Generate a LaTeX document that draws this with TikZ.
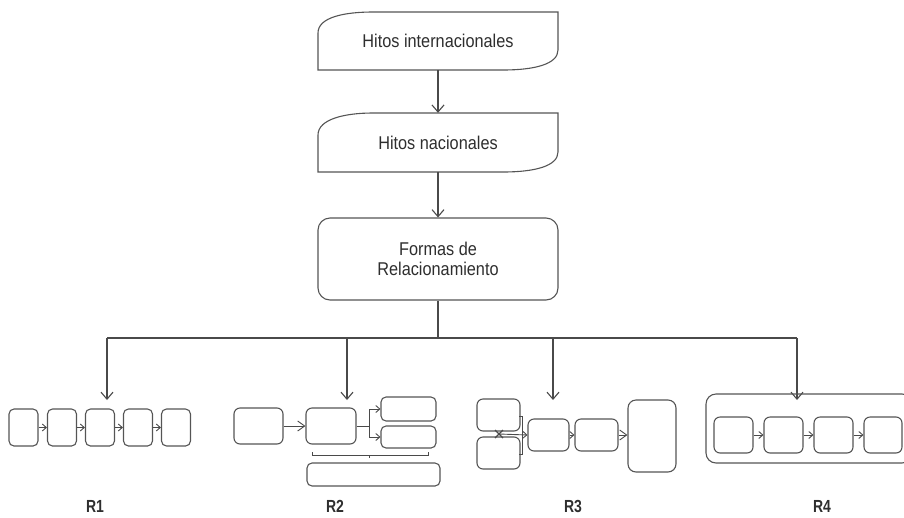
\documentclass[tikz,border=0pt]{standalone}
\usepackage{fontspec}
\setmainfont{Liberation Sans}[FakeStretch=0.88]
\newfontfamily\rfont{Liberation Sans}[FakeStretch=0.8]
\usetikzlibrary{arrows.meta,calc}
\definecolor{linegray}{HTML}{4A4A4A}
\definecolor{boxgray}{HTML}{555555}
\definecolor{txtgray}{HTML}{2E2E2E}
\tikzset{
  ln/.style={draw=linegray, line width=1.1pt},
  arr/.style={ln, -{Straight Barb[length=7pt,width=12pt,line width=1.1pt]}},
  sarr/.style={draw=linegray, line width=0.9pt, -{Straight Barb[length=4pt,width=7pt,line width=0.9pt]}},
  marr/.style={draw=linegray, line width=0.9pt, -{Straight Barb[length=7pt,width=10pt,line width=0.9pt]}},
  sbox/.style={draw=boxgray, line width=1.1pt, rounded corners=5pt, inner sep=0pt},
  bigtext/.style={text=txtgray, font=\fontsize{18.5}{20}\selectfont, align=center},
  rlabel/.style={text=txtgray, inner sep=0pt, anchor=base, font=\rfont\bfseries\fontsize{17.5}{19}\selectfont}
}
\begin{document}
\begin{tikzpicture}[x=1pt,y=-1pt]
\useasboundingbox (0,0) rectangle (904,517);

% top shapes
\draw[ln, draw=boxgray] (318,70) -- (318,33) .. controls (318,17) and (345,12) .. (373,12) -- (558,12) -- (558,50) .. controls (558,64) and (535,70) .. (503,70) -- cycle;
\node[bigtext, minimum width=240pt, minimum height=58pt] (h1) at (438,41) {Hitos internacionales};
\draw[ln, draw=boxgray] (318,172) -- (318,135) .. controls (318,119) and (345,113) .. (373,113) -- (558,113) -- (558,152) .. controls (558,166) and (535,172) .. (503,172) -- cycle;
\node[bigtext, minimum width=240pt, minimum height=59pt] (h2) at (438,142.5) {Hitos nacionales};
\node[bigtext, draw=boxgray, line width=1.1pt, rounded corners=12pt, minimum width=240pt, minimum height=82pt] (f) at (438,259) {Formas de\\Relacionamiento};

\draw[arr] (h1.south) -- (h2.north);
\draw[arr] (h2.south) -- (f.north);

\coordinate (j) at (438,338);
\coordinate (b1) at (107,338);
\coordinate (b2) at (347,338);
\coordinate (b3) at (553,338);
\coordinate (b4) at (797,338);
\coordinate (t1) at (107,400);
\coordinate (t2) at (347,400);
\coordinate (t3) at (553,400);
\coordinate (t4) at (797,400);
\draw[ln] (f.south) -- (j);
\draw[ln] (b1) -- (b4);
\draw[arr] (b1) -- (t1);
\draw[arr] (b2) -- (t2);
\draw[arr] (b3) -- (t3);
\draw[arr] (b4) -- (t4);

% R1
\foreach \i/\x in {a/23.5,b/62,c/100,d/138,e/176}
  \node[sbox, minimum width=29pt, minimum height=37pt] (r1\i) at (\x,427.5) {};
\draw[sarr] (r1a.east) -- (r1b.west);
\draw[sarr] (r1b.east) -- (r1c.west);
\draw[sarr] (r1c.east) -- (r1d.west);
\draw[sarr] (r1d.east) -- (r1e.west);
\node[rlabel] (l1) at (95,512) {R1};

% R2
\node[sbox, rounded corners=6pt, minimum width=49pt, minimum height=36pt] (r2a) at (258.5,426) {};
\node[sbox, rounded corners=6pt, minimum width=50pt, minimum height=36pt] (r2b) at (331,426) {};
\node[sbox, minimum width=55pt, minimum height=24pt] (r2c) at (408.5,409) {};
\node[sbox, minimum width=55pt, minimum height=22pt] (r2d) at (408.5,437) {};
\node[sbox, minimum width=133pt, minimum height=23pt] (r2e) at (373.5,474.5) {};
\coordinate (r2j) at (369,426);
\draw[marr] (r2a.east) -- (r2b.west);
\draw[ln, line width=0.9pt] (r2b.east) -- (r2j);
\draw[sarr] (r2j) |- (r2c.west);
\draw[sarr] (r2j) |- (r2d.west);
\draw[draw=linegray, line width=0.9pt] (312,452) -- (312,455) -- (428,455) -- (428,452);
\draw[draw=linegray, line width=0.9pt] (369,455) -- (369,458);
\node[rlabel] (l2) at (335,512) {R2};

% R3
\node[sbox, rounded corners=6pt, minimum width=43pt, minimum height=32pt] (r3a) at (498.5,415) {};
\node[sbox, rounded corners=6pt, minimum width=43pt, minimum height=32pt] (r3b) at (498.5,453) {};
\node[sbox, rounded corners=6pt, minimum width=41pt, minimum height=32pt] (r3c) at (548.5,435) {};
\node[sbox, rounded corners=6pt, minimum width=43pt, minimum height=32pt] (r3d) at (596.5,435) {};
\node[sbox, rounded corners=8pt, minimum width=48pt, minimum height=72pt] (r3e) at (652,436) {};
\coordinate (r3x) at (499,434);
\draw[draw=linegray, line width=0.9pt] (519,416) -- (522,416) -- (522,454) -- (519,454);
\draw[sarr] (r3x) -- (r3c.west);
\draw[draw=linegray, line width=1.2pt] ($(r3x)+(-4,-4)$) -- ($(r3x)+(4,4)$);
\draw[draw=linegray, line width=1.2pt] ($(r3x)+(-4,4)$) -- ($(r3x)+(4,-4)$);
\draw[sarr] (r3c.east) -- (r3d.west);
\draw[marr] (r3d.east) -- (r3d.east -| r3e.west);
\node[rlabel] (l3) at (573,512) {R3};

% R4
\node[sbox, rounded corners=10pt, minimum width=206pt, minimum height=69pt] (r4o) at (809,428.5) {};
\node[sbox, rounded corners=6pt, minimum width=39pt, minimum height=36pt] (r4a) at (733.5,435) {};
\node[sbox, rounded corners=6pt, minimum width=39pt, minimum height=36pt] (r4b) at (783.5,435) {};
\node[sbox, rounded corners=6pt, minimum width=39pt, minimum height=36pt] (r4c) at (833.5,435) {};
\node[sbox, rounded corners=6pt, minimum width=38pt, minimum height=36pt] (r4d) at (883,435) {};
\draw[sarr] (r4a.east) -- (r4b.west);
\draw[sarr] (r4b.east) -- (r4c.west);
\draw[sarr] (r4c.east) -- (r4d.west);
\node[rlabel] (l4) at (822,512) {R4};
\end{tikzpicture}
\end{document}
